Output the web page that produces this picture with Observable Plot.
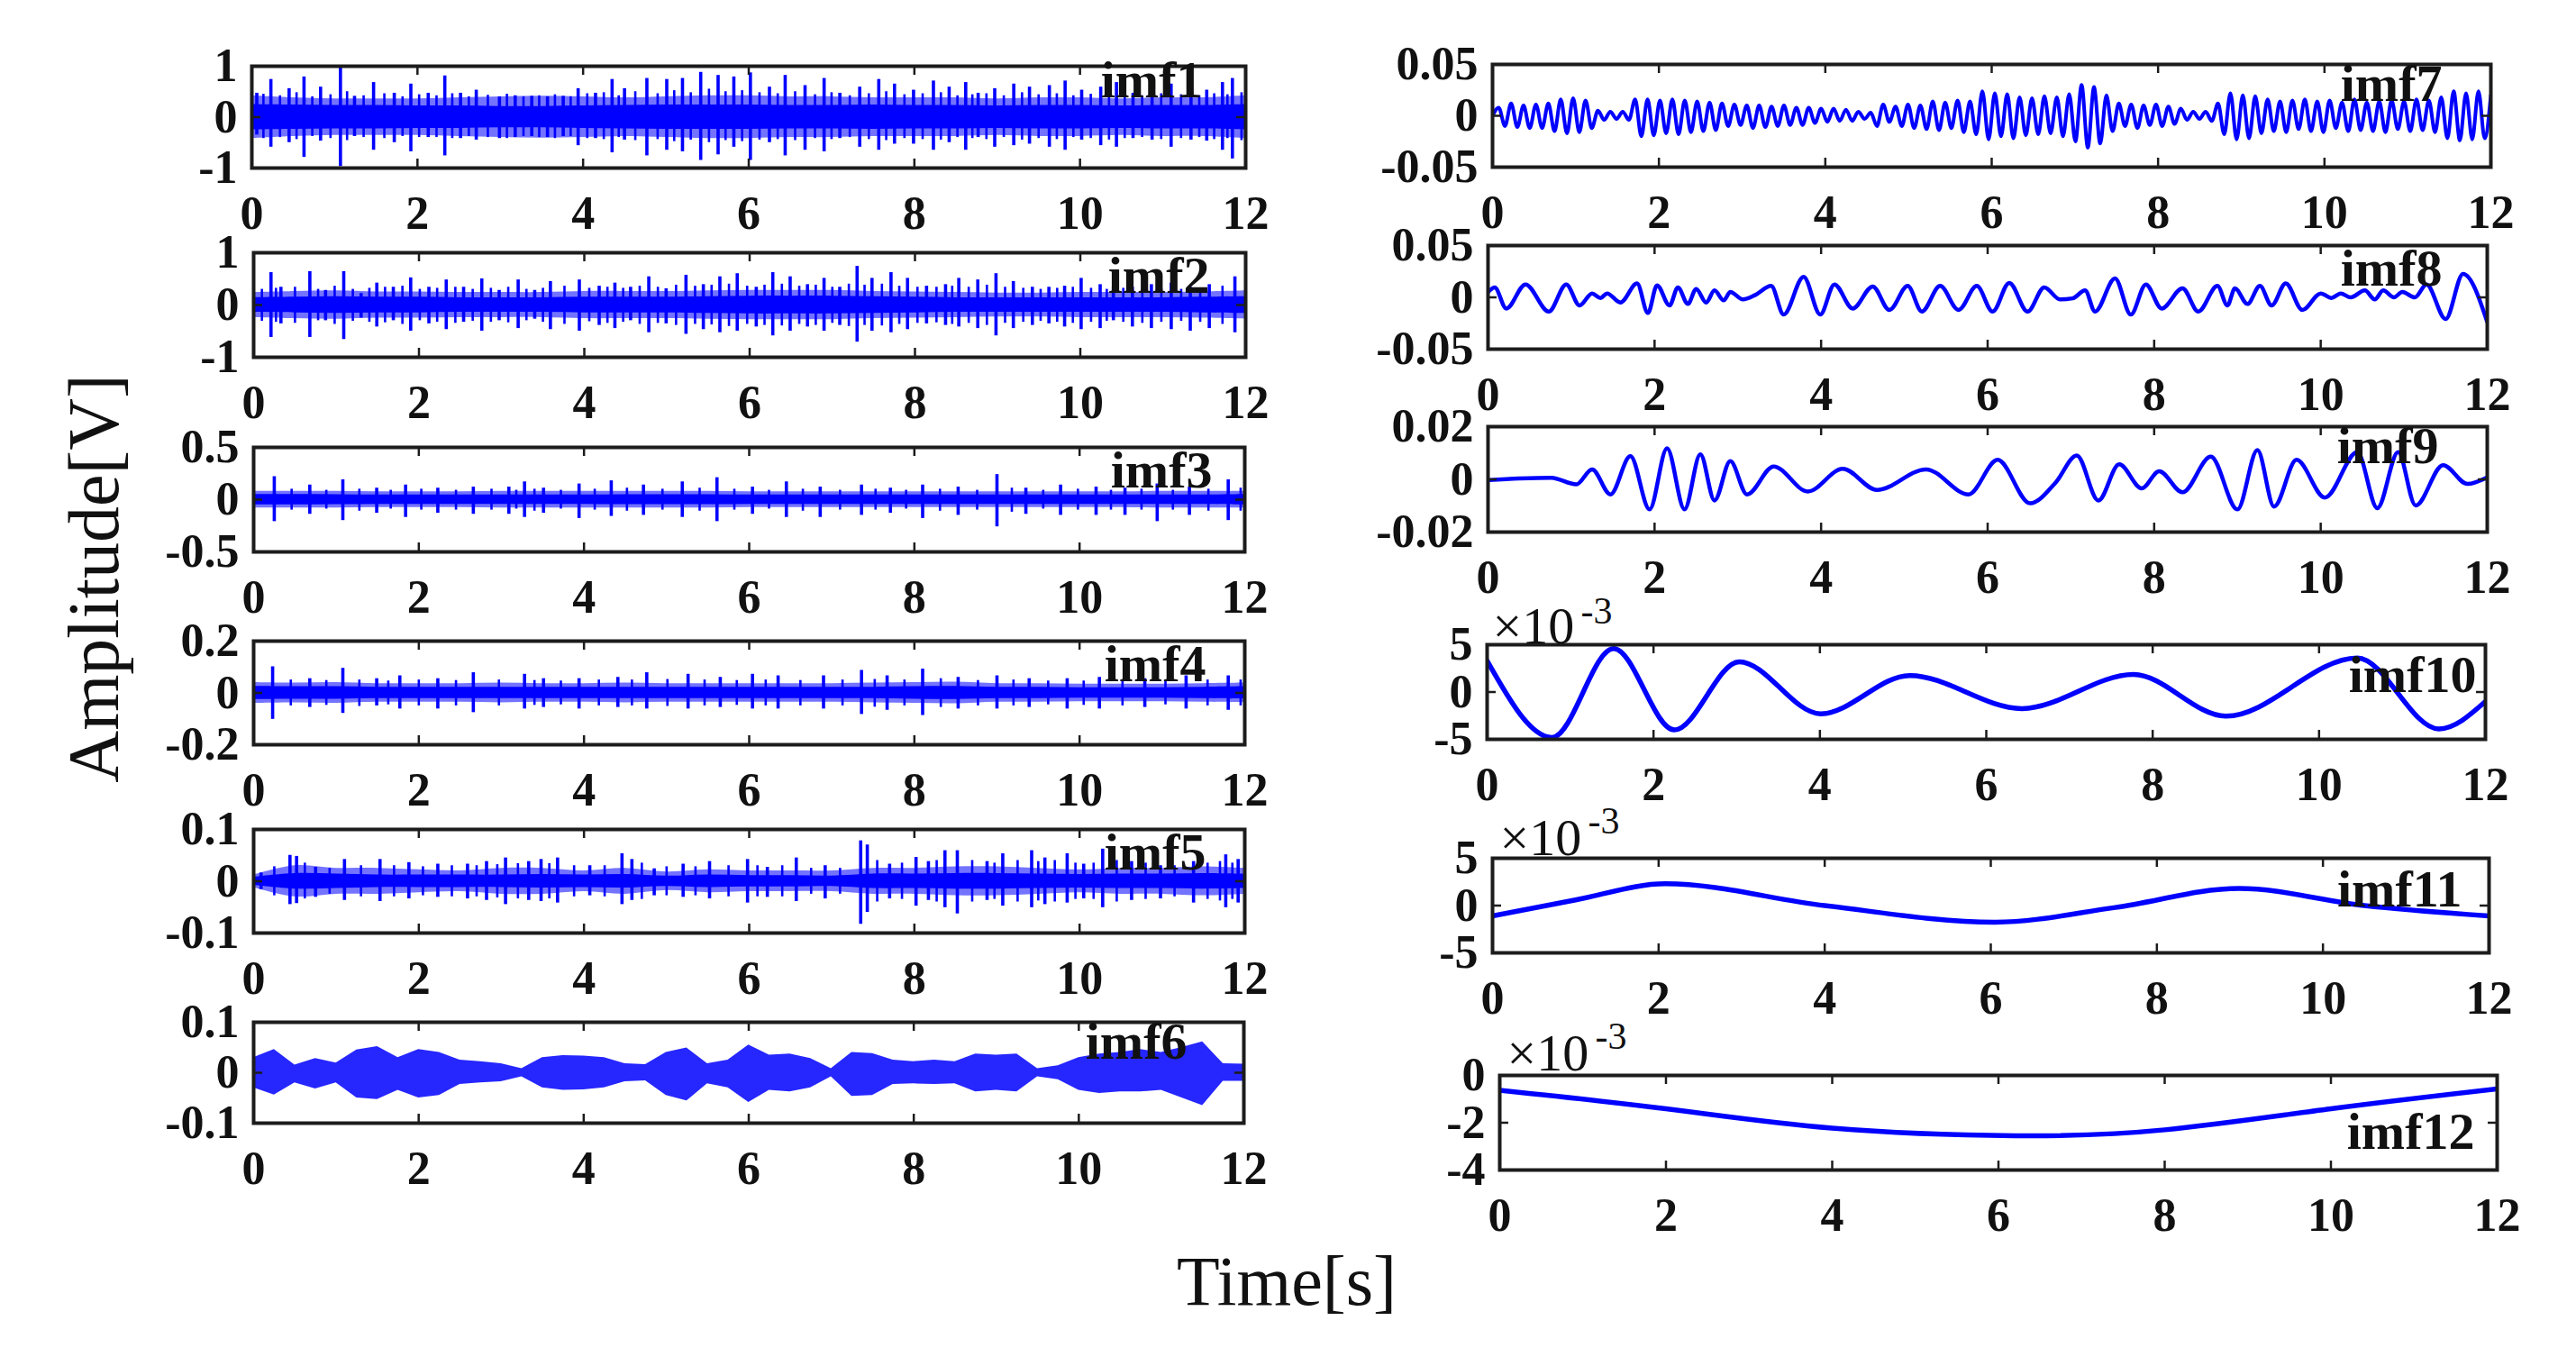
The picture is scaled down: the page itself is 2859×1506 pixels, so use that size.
<!DOCTYPE html>
<html><head><meta charset="utf-8">
<script src="https://cdn.jsdelivr.net/npm/d3@7"></script>
<script src="https://cdn.jsdelivr.net/npm/@observablehq/plot@0.6"></script>
<style>
html,body{margin:0;padding:0;background:#fff;}
#root{position:relative;width:2859px;height:1506px;background:#fff;overflow:hidden;}
#root svg{position:absolute;}
</style></head><body><div id="root"></div>
<script>
// ---------------- DATA ----------------
const timeTicks = [0, 2, 4, 6, 8, 10, 12];

// y-axis tick labels of each panel
const imf1Ticks = [-1, 0, 1];
const imf2Ticks = [-1, 0, 1];
const imf3Ticks = [-0.5, 0, 0.5];
const imf4Ticks = [-0.2, 0, 0.2];
const imf5Ticks = [-0.1, 0, 0.1];
const imf6Ticks = [-0.1, 0, 0.1];
const imf7Ticks = [-0.05, 0, 0.05];
const imf8Ticks = [-0.05, 0, 0.05];
const imf9Ticks = [-0.02, 0, 0.02];
const imf10Ticks = [-5, 0, 5];   // x10^-3
const imf11Ticks = [-5, 0, 5];   // x10^-3
const imf12Ticks = [-4, -2, 0];  // x10^-3

// dense IMFs: core band and outer fuzz (every 0.5 s), major spikes and minor spikes
const imf1Core = [0.25,0.24,0.23,0.23,0.22,0.22,0.21,0.21,0.22,0.23,0.24,0.24,0.24,0.23,0.23,0.24,0.23,0.23,0.22,0.23,0.23,0.22,0.23,0.23,0.25];
const imf1Fuzz = [0.42,0.38,0.36,0.36,0.36,0.38,0.40,0.41,0.40,0.38,0.40,0.42,0.42,0.40,0.40,0.38,0.38,0.38,0.36,0.38,0.38,0.36,0.38,0.38,0.42];
const imf1SpikeT = [0.06,0.23,0.45,0.63,0.83,1.07,1.24,1.47,1.72,1.92,2.13,2.33,2.52,2.71,2.99,3.18,3.38,3.57,3.76,3.94,4.15,4.35,4.50,4.77,5.01,5.20,5.42,5.63,5.82,6.02,6.25,6.44,6.68,6.91,7.10,7.34,7.57,7.76,7.99,8.23,8.42,8.62,8.77,8.97,9.20,9.39,9.63,9.82,10.02,10.25,10.44,10.64,10.87,11.10,11.34,11.53,11.72,11.84];
const imf1SpikeHi = [0.47,0.74,0.56,0.79,0.59,0.99,0.41,0.68,0.47,0.65,0.47,0.81,0.47,0.53,0.40,0.42,0.41,0.40,0.41,0.56,0.47,0.74,0.56,0.76,0.74,0.76,0.88,0.82,0.79,0.87,0.59,0.82,0.62,0.76,0.47,0.59,0.74,0.65,0.53,0.71,0.59,0.68,0.47,0.56,0.65,0.59,0.62,0.71,0.53,0.59,0.68,0.47,0.59,0.65,0.56,0.53,0.68,0.76];
const imf1SpikeLo = [-0.35,-0.59,-0.50,-0.79,-0.47,-0.97,-0.38,-0.65,-0.50,-0.68,-0.40,-0.76,-0.42,-0.45,-0.42,-0.40,-0.38,-0.40,-0.38,-0.56,-0.42,-0.70,-0.45,-0.76,-0.65,-0.68,-0.85,-0.74,-0.59,-0.85,-0.50,-0.76,-0.65,-0.68,-0.42,-0.59,-0.65,-0.53,-0.53,-0.65,-0.50,-0.65,-0.40,-0.59,-0.56,-0.53,-0.59,-0.65,-0.45,-0.56,-0.59,-0.42,-0.45,-0.59,-0.45,-0.47,-0.65,-0.82];
const imf1MinorT = [0.14,0.34,0.54,0.73,0.95,1.15,1.35,1.60,1.82,2.02,2.23,2.42,2.62,2.85,3.08,3.28,3.47,3.66,3.85,4.05,4.25,4.43,4.63,4.90,5.10,5.30,5.52,5.72,5.92,6.13,6.35,6.56,6.80,7.00,7.22,7.45,7.66,7.88,8.10,8.32,8.52,8.70,8.87,9.08,9.30,9.50,9.72,9.92,10.13,10.35,10.54,10.75,10.98,11.22,11.44,11.62,11.78,11.95];
const imf1MinorHi = [0.45,0.42,0.48,0.40,0.44,0.50,0.42,0.46,0.40,0.44,0.42,0.46,0.40,0.43,0.45,0.40,0.42,0.44,0.40,0.46,0.48,0.42,0.50,0.46,0.52,0.48,0.55,0.50,0.52,0.48,0.46,0.50,0.44,0.48,0.42,0.46,0.50,0.44,0.46,0.48,0.42,0.44,0.46,0.42,0.48,0.44,0.46,0.42,0.45,0.48,0.44,0.42,0.46,0.44,0.42,0.46,0.44,0.48];
const imf1MinorLo = [-0.42,-0.40,-0.44,-0.38,-0.42,-0.46,-0.40,-0.42,-0.38,-0.40,-0.40,-0.42,-0.38,-0.40,-0.42,-0.38,-0.40,-0.42,-0.38,-0.42,-0.44,-0.40,-0.46,-0.44,-0.48,-0.45,-0.50,-0.46,-0.48,-0.45,-0.44,-0.46,-0.42,-0.44,-0.40,-0.44,-0.46,-0.42,-0.44,-0.45,-0.40,-0.42,-0.44,-0.40,-0.45,-0.42,-0.44,-0.40,-0.42,-0.45,-0.42,-0.40,-0.44,-0.42,-0.40,-0.44,-0.42,-0.46];

const imf2Core = [0.14,0.15,0.16,0.15,0.15,0.14,0.14,0.14,0.15,0.15,0.15,0.16,0.17,0.17,0.17,0.16,0.15,0.14,0.14,0.14,0.14,0.14,0.14,0.15,0.16];
const imf2Fuzz = [0.24,0.26,0.27,0.25,0.25,0.24,0.24,0.24,0.26,0.26,0.26,0.27,0.28,0.28,0.28,0.26,0.25,0.24,0.23,0.23,0.24,0.24,0.24,0.25,0.27];
const imf2SpikeT = [0.21,0.33,0.68,0.87,1.09,1.30,1.49,1.69,1.90,2.12,2.33,2.54,2.76,2.97,3.20,3.40,3.59,3.94,4.18,4.37,4.56,4.78,4.99,5.23,5.44,5.64,5.85,6.08,6.28,6.49,6.70,6.90,7.09,7.30,7.48,7.71,7.91,8.14,8.37,8.53,8.76,8.98,9.19,9.42,9.62,9.81,10.01,10.24,10.40,10.63,10.86,11.10,11.33,11.56,11.87];
const imf2SpikeHi = [0.62,0.34,0.64,0.28,0.64,0.22,0.42,0.34,0.52,0.34,0.48,0.34,0.50,0.28,0.48,0.28,0.45,0.48,0.36,0.42,0.34,0.54,0.31,0.57,0.39,0.54,0.60,0.34,0.62,0.54,0.39,0.51,0.34,0.74,0.51,0.62,0.51,0.36,0.39,0.51,0.48,0.60,0.45,0.34,0.34,0.36,0.51,0.39,0.34,0.34,0.39,0.42,0.34,0.39,0.54];
const imf2SpikeLo = [-0.62,-0.36,-0.62,-0.30,-0.66,-0.25,-0.42,-0.30,-0.50,-0.36,-0.47,-0.33,-0.50,-0.30,-0.45,-0.27,-0.47,-0.50,-0.39,-0.45,-0.30,-0.53,-0.36,-0.56,-0.47,-0.53,-0.50,-0.42,-0.59,-0.50,-0.42,-0.50,-0.39,-0.71,-0.50,-0.53,-0.47,-0.36,-0.39,-0.42,-0.45,-0.59,-0.45,-0.39,-0.36,-0.42,-0.47,-0.45,-0.30,-0.42,-0.45,-0.47,-0.50,-0.45,-0.53];
const imf2MinorT = [0.10,0.27,0.50,0.78,0.98,1.20,1.40,1.59,1.80,2.01,2.22,2.44,2.65,2.87,3.08,3.30,3.50,3.76,4.06,4.28,4.47,4.67,4.89,5.11,5.34,5.54,5.75,5.97,6.18,6.39,6.60,6.80,7.00,7.20,7.39,7.60,7.81,8.03,8.26,8.45,8.65,8.87,9.09,9.31,9.52,9.72,9.91,10.13,10.32,10.52,10.75,10.98,11.22,11.45,11.72];
const imf2MinorHi = [0.30,0.32,0.34,0.30,0.36,0.30,0.32,0.34,0.36,0.30,0.32,0.34,0.30,0.32,0.34,0.30,0.32,0.36,0.32,0.34,0.32,0.36,0.34,0.38,0.36,0.38,0.40,0.36,0.38,0.40,0.36,0.38,0.34,0.40,0.38,0.40,0.36,0.34,0.34,0.36,0.34,0.38,0.34,0.32,0.30,0.32,0.34,0.32,0.30,0.32,0.34,0.32,0.30,0.32,0.36];
const imf2MinorLo = [-0.31,-0.33,-0.35,-0.30,-0.37,-0.31,-0.33,-0.34,-0.37,-0.30,-0.33,-0.35,-0.31,-0.33,-0.34,-0.30,-0.33,-0.37,-0.32,-0.35,-0.33,-0.37,-0.35,-0.39,-0.37,-0.38,-0.41,-0.37,-0.39,-0.40,-0.37,-0.39,-0.35,-0.41,-0.39,-0.40,-0.37,-0.35,-0.34,-0.37,-0.35,-0.39,-0.35,-0.33,-0.31,-0.33,-0.35,-0.33,-0.31,-0.33,-0.35,-0.33,-0.31,-0.33,-0.37];

const imf3Core = [0.050,0.050,0.048,0.045,0.045,0.045,0.045,0.045,0.045,0.048,0.048,0.048,0.045,0.045,0.045,0.045,0.045,0.045,0.045,0.045,0.045,0.045,0.045,0.045,0.050];
const imf3Fuzz = [0.080,0.080,0.080,0.075,0.075,0.075,0.080,0.080,0.080,0.080,0.080,0.080,0.075,0.075,0.075,0.075,0.075,0.075,0.075,0.075,0.075,0.075,0.080,0.080,0.080];
const imf3SpikeT = [0.25,0.68,1.08,1.49,1.84,2.23,2.66,3.09,3.28,3.51,3.94,4.33,4.72,5.19,5.61,6.04,6.45,6.86,7.36,7.71,8.10,8.53,9.00,9.35,9.77,10.20,10.55,10.94,11.33,11.80];
const imf3SpikeHi = [0.22,0.14,0.19,0.11,0.14,0.11,0.12,0.12,0.17,0.11,0.15,0.18,0.14,0.17,0.21,0.12,0.17,0.12,0.14,0.11,0.14,0.12,0.24,0.11,0.14,0.12,0.11,0.15,0.12,0.19];
const imf3SpikeLo = [-0.21,-0.14,-0.20,-0.13,-0.17,-0.13,-0.14,-0.14,-0.17,-0.13,-0.18,-0.16,-0.15,-0.17,-0.21,-0.14,-0.17,-0.17,-0.15,-0.13,-0.18,-0.15,-0.26,-0.14,-0.15,-0.15,-0.15,-0.21,-0.15,-0.20];
const imf3MinorT = [0.46,0.88,1.28,1.66,2.03,2.45,2.88,3.18,3.40,3.72,4.13,4.52,4.95,5.40,5.82,6.24,6.65,7.10,7.53,7.90,8.31,8.76,9.18,9.56,9.98,10.38,10.75,11.13,11.56,11.95];
const imf3MinorHi = [0.10,0.09,0.10,0.09,0.10,0.09,0.10,0.09,0.10,0.09,0.10,0.11,0.10,0.11,0.10,0.09,0.10,0.09,0.10,0.09,0.10,0.09,0.11,0.09,0.10,0.09,0.10,0.09,0.10,0.11];
const imf3MinorLo = [-0.10,-0.09,-0.11,-0.09,-0.10,-0.10,-0.10,-0.09,-0.11,-0.09,-0.10,-0.11,-0.10,-0.11,-0.10,-0.09,-0.11,-0.10,-0.10,-0.09,-0.11,-0.10,-0.12,-0.09,-0.10,-0.10,-0.10,-0.10,-0.11,-0.11];

const imf4Core = [0.025,0.024,0.024,0.022,0.022,0.022,0.022,0.022,0.022,0.022,0.022,0.022,0.022,0.022,0.022,0.022,0.024,0.025,0.022,0.022,0.020,0.020,0.020,0.022,0.024];
const imf4Fuzz = [0.040,0.038,0.040,0.036,0.036,0.036,0.038,0.036,0.036,0.038,0.036,0.036,0.036,0.036,0.036,0.038,0.040,0.042,0.036,0.036,0.034,0.034,0.034,0.036,0.038];
const imf4SpikeT = [0.23,0.68,1.08,1.49,1.77,2.23,2.66,3.28,3.51,3.94,4.41,4.76,5.26,5.65,6.04,6.35,6.90,7.36,7.67,8.10,8.53,9.00,9.39,9.85,10.24,10.79,11.29,11.80];
const imf4SpikeHi = [0.101,0.055,0.095,0.055,0.066,0.055,0.078,0.072,0.055,0.055,0.060,0.078,0.072,0.060,0.072,0.066,0.066,0.087,0.066,0.092,0.060,0.066,0.055,0.055,0.060,0.055,0.066,0.066];
const imf4SpikeLo = [-0.102,-0.056,-0.079,-0.050,-0.062,-0.062,-0.076,-0.062,-0.056,-0.062,-0.056,-0.062,-0.062,-0.056,-0.062,-0.062,-0.062,-0.083,-0.067,-0.087,-0.062,-0.062,-0.056,-0.062,-0.062,-0.056,-0.062,-0.067];
const imf4MinorT = [0.45,0.88,1.28,1.63,2.00,2.45,2.97,3.40,3.72,4.18,4.58,5.01,5.46,5.85,6.20,6.62,7.13,7.52,7.88,8.32,8.77,9.20,9.62,10.05,10.52,11.04,11.55,11.95];
const imf4MinorHi = [0.050,0.048,0.050,0.046,0.050,0.048,0.050,0.048,0.046,0.050,0.050,0.052,0.050,0.048,0.050,0.048,0.050,0.052,0.050,0.055,0.048,0.050,0.046,0.046,0.048,0.046,0.050,0.050];
const imf4MinorLo = [-0.050,-0.048,-0.052,-0.046,-0.050,-0.050,-0.050,-0.048,-0.046,-0.050,-0.050,-0.052,-0.050,-0.048,-0.050,-0.050,-0.050,-0.055,-0.050,-0.056,-0.050,-0.050,-0.046,-0.048,-0.050,-0.046,-0.050,-0.050];

const imf5Core = [0.008,0.015,0.014,0.012,0.012,0.012,0.012,0.013,0.012,0.013,0.010,0.012,0.011,0.011,0.010,0.014,0.014,0.015,0.015,0.014,0.013,0.014,0.014,0.015,0.014];
const imf5Fuzz = [0.012,0.030,0.025,0.025,0.022,0.020,0.025,0.025,0.020,0.025,0.018,0.022,0.020,0.020,0.020,0.025,0.025,0.028,0.028,0.025,0.022,0.025,0.025,0.028,0.025];
const imf5SpikeT = [0.09,0.44,0.52,0.75,1.10,1.53,1.88,2.23,2.59,2.82,3.05,3.33,3.48,3.68,4.07,4.46,4.58,4.85,5.20,5.52,5.98,6.22,6.57,6.92,7.35,7.43,7.70,8.02,8.17,8.37,8.52,8.88,9.07,9.42,9.58,9.85,10.05,10.28,10.63,10.98,11.38,11.77,11.92];
const imf5SpikeHi = [0.016,0.050,0.048,0.027,0.042,0.042,0.036,0.033,0.033,0.038,0.045,0.038,0.042,0.045,0.030,0.053,0.042,0.024,0.033,0.038,0.042,0.027,0.045,0.030,0.078,0.070,0.033,0.046,0.038,0.059,0.059,0.038,0.053,0.059,0.045,0.053,0.033,0.062,0.038,0.030,0.038,0.051,0.042];
const imf5SpikeLo = [-0.016,-0.045,-0.043,-0.031,-0.037,-0.039,-0.034,-0.031,-0.034,-0.037,-0.045,-0.037,-0.039,-0.042,-0.028,-0.045,-0.037,-0.028,-0.031,-0.034,-0.042,-0.031,-0.039,-0.034,-0.083,-0.060,-0.034,-0.048,-0.037,-0.051,-0.063,-0.037,-0.048,-0.051,-0.045,-0.042,-0.034,-0.051,-0.037,-0.034,-0.042,-0.051,-0.042];
const imf5MinorT = [0.25,0.62,0.92,1.30,1.70,2.05,2.40,2.70,2.95,3.20,3.58,3.88,4.25,4.70,5.00,5.35,5.75,6.10,6.40,6.75,7.10,7.55,7.85,8.27,8.70,8.97,9.25,9.50,9.70,9.95,10.17,10.45,10.80,11.15,11.55,11.70,11.85];
const imf5MinorHi = [0.028,0.035,0.025,0.030,0.030,0.028,0.030,0.030,0.032,0.034,0.034,0.030,0.030,0.035,0.028,0.028,0.030,0.030,0.030,0.025,0.025,0.040,0.035,0.040,0.040,0.035,0.040,0.038,0.040,0.035,0.035,0.040,0.035,0.030,0.035,0.038,0.035];
const imf5MinorLo = [-0.028,-0.034,-0.025,-0.030,-0.030,-0.028,-0.030,-0.030,-0.032,-0.034,-0.034,-0.030,-0.030,-0.035,-0.028,-0.028,-0.030,-0.030,-0.030,-0.025,-0.025,-0.040,-0.035,-0.040,-0.040,-0.035,-0.040,-0.038,-0.040,-0.035,-0.035,-0.040,-0.035,-0.030,-0.035,-0.038,-0.035];

// imf6: upper / lower envelope every 0.25 s
const imf6Upper = [0.030,0.046,0.015,0.028,0.019,0.045,0.052,0.030,0.046,0.040,0.025,0.022,0.018,0.008,0.030,0.034,0.033,0.030,0.018,0.016,0.040,0.049,0.018,0.025,0.055,0.035,0.037,0.028,0.008,0.040,0.038,0.025,0.022,0.025,0.022,0.037,0.035,0.037,0.008,0.014,0.030,0.037,0.040,0.046,0.040,0.050,0.061,0.018,0.017];
const imf6Lower = [-0.030,-0.044,-0.020,-0.032,-0.020,-0.050,-0.053,-0.035,-0.050,-0.045,-0.023,-0.020,-0.018,-0.008,-0.030,-0.035,-0.034,-0.030,-0.018,-0.016,-0.045,-0.056,-0.022,-0.030,-0.059,-0.035,-0.038,-0.030,-0.008,-0.047,-0.045,-0.023,-0.022,-0.023,-0.022,-0.038,-0.035,-0.038,-0.008,-0.014,-0.035,-0.041,-0.038,-0.038,-0.035,-0.050,-0.065,-0.017,-0.017];

// imf7: successive extrema, evenly spaced over 0..12 s
const imf7Extrema = [0,0.008,-0.010,0.012,-0.011,0.010,-0.012,0.011,-0.012,0.012,
 -0.015,0.016,-0.017,0.017,-0.016,0.015,-0.012,
 0.005,-0.004,0.004,-0.003,0.004,-0.004,
 0.016,-0.020,0.016,-0.019,0.015,-0.017,0.016,-0.018,0.015,-0.016,0.014,-0.015,0.013,-0.014,0.012,
 -0.010,0.011,-0.009,0.010,-0.012,0.010,-0.011,0.009,-0.010,0.010,-0.009,0.008,-0.009,0.008,-0.007,0.007,-0.006,0.007,-0.005,0.006,-0.005,0.004,
 -0.003,0.003,
 -0.010,0.011,-0.006,0.009,-0.010,0.011,-0.012,0.010,-0.013,
 0.014,-0.014,0.013,-0.012,0.015,-0.016,0.014,-0.018,
 0.024,-0.023,0.022,-0.020,0.021,-0.022,0.018,
 -0.019,0.017,-0.018,0.019,-0.017,0.018,-0.020,0.021,
 -0.025,0.030,-0.031,0.028,-0.027,
 0.020,
 -0.015,0.012,-0.010,0.011,-0.012,0.010,-0.009,0.011,-0.010,0.009,-0.008,0.007,
 -0.004,0.004,-0.003,0.004,-0.005,
 0.012,-0.018,0.022,-0.023,0.020,-0.022,0.019,-0.017,0.016,-0.015,
 0.014,-0.016,0.015,-0.013,0.016,-0.015,0.014,-0.016,0.015,-0.012,0.013,-0.015,0.016,-0.014,0.013,-0.015,0.014,-0.016,0.015,-0.013,0.014,-0.015,0.016,-0.014,0.015,-0.016,
 0.018,-0.022,0.024,-0.024,0.022,-0.023,0.024,-0.022,0.020];

const imf8T = [0,0.08,0.22,0.45,0.73,0.94,1.10,1.25,1.35,1.43,1.59,1.79,1.92,2.03,2.18,2.28,2.40,2.50,2.62,2.72,2.83,2.91,3.06,3.21,3.40,3.55,3.79,3.99,4.16,4.38,4.62,4.82,5.04,5.21,5.43,5.65,5.87,6.06,6.26,6.48,6.68,6.87,7.02,7.17,7.29,7.53,7.72,7.90,8.09,8.34,8.53,8.76,8.88,8.97,9.12,9.27,9.41,9.58,9.78,10.00,10.13,10.24,10.36,10.53,10.65,10.75,10.88,10.98,11.13,11.27,11.50,11.71,12.00];
const imf8V = [0.005,0.0096,-0.0108,0.0125,-0.0137,0.0125,-0.0078,0.0038,-0.0006,0.0038,-0.0049,0.0134,-0.0151,0.0116,-0.0078,0.0096,-0.0064,0.0081,-0.0049,0.0067,-0.0029,0.0052,-0.0020,0.0023,0.0110,-0.0166,0.0198,-0.0166,0.0125,-0.0108,0.0105,-0.0122,0.0110,-0.0137,0.0110,-0.0122,0.0110,-0.0137,0.0140,-0.0137,0.0096,-0.0020,-0.0010,0.0067,-0.0137,0.0183,-0.0166,0.0125,-0.0108,0.0087,-0.0137,0.0110,-0.0078,0.0087,-0.0064,0.0110,-0.0078,0.0134,-0.0122,0.0038,-0.0006,0.0038,0,0.0067,-0.0020,0.0067,0,0.0052,0,0.0125,-0.0209,0.0227,-0.0238];

const imf9T = [0,0.37,0.76,1.06,1.25,1.47,1.71,1.94,2.15,2.36,2.55,2.72,2.91,3.11,3.43,3.84,4.26,4.67,5.26,5.77,6.12,6.51,6.82,7.07,7.33,7.58,7.85,8.06,8.34,8.68,9.00,9.24,9.44,9.71,10.05,10.44,10.68,10.93,11.14,11.47,11.76,12.00];
const imf9V = [-0.0003,0.0003,0.0006,-0.0019,0.0038,-0.0057,0.0088,-0.0114,0.0118,-0.0114,0.0095,-0.0080,0.0069,-0.0057,0.0049,-0.0046,0.0040,-0.0040,0.0038,-0.0057,0.0074,-0.0091,-0.0011,0.0091,-0.0080,0.0057,-0.0034,0.0031,-0.0049,0.0086,-0.0114,0.0111,-0.0103,0.0074,-0.0069,0.0103,-0.0109,0.0103,-0.0099,0.0054,-0.0017,0.0008];

// imf10..imf12 in units of 10^-3
const imf10T = [0,0.78,1.52,2.25,3.03,4.01,5.08,6.43,7.77,8.88,10.46,11.44,12.00];
const imf10V = [3.3,-4.8,4.6,-4.0,3.2,-2.3,1.75,-1.75,1.85,-2.55,3.6,-3.9,-1.0];
const imf11T = [0,1.0,2.08,4.0,6.05,7.5,8.99,10.5,12.0];
const imf11V = [-1.1,0.6,2.3,0.0,-1.75,-0.2,1.8,0.0,-1.1];
const imf12T = [0,2,4,6.2,8,10,12];
const imf12V = [-0.63,-1.41,-2.23,-2.55,-2.3,-1.41,-0.57];

// ---------------- LAYOUT ----------------
const BLUE = "#0000ff", FRAME = "#1c1c1c", FONT = "'Liberation Serif','Times New Roman',serif";
const mL = 150, mR = 40, mT = 90, mB = 100, TL = 10;
const fmt = d => String(d);

const pts = (T, V) => T.map((t, i) => ({t, v: V[i]}));
const band = (core, fuzz) => core.map((c, i) => ({t: i * 0.5, core: c, fuzz: fuzz[i]}));
const spikes = (T, H, L) => T.map((t, i) => ({t, hi: H[i], lo: L[i]}));

function denseMarks(core, fuzz, T, H, L, mT_, mH, mLo) {
  const b = band(core, fuzz);
  return [
    Plot.areaY(b, {x: "t", y1: d => -d.fuzz, y2: d => d.fuzz, fill: BLUE, fillOpacity: 0.55, curve: "catmull-rom", clip: true}),
    Plot.ruleX(spikes(mT_, mH, mLo), {x: "t", y1: "lo", y2: "hi", stroke: BLUE, strokeWidth: 2.6, clip: true}),
    Plot.areaY(b, {x: "t", y1: d => -d.core, y2: d => d.core, fill: BLUE, curve: "catmull-rom", clip: true}),
    Plot.ruleX(spikes(T, H, L), {x: "t", y1: "lo", y2: "hi", stroke: BLUE, strokeWidth: 3.6, clip: true})
  ];
}
const lineMarks = (data, w, curve) => [Plot.line(data, {x: "t", y: "v", stroke: BLUE, strokeWidth: w, curve, clip: true})];

const imf6Env = imf6Upper.map((u, i) => ({t: i * 0.25, hi: u, lo: imf6Lower[i]}));
const imf7Data = imf7Extrema.map((v, i) => ({t: i * 12 / (imf7Extrema.length - 1), v}));

const panels = [
  {name: "imf1", box: [279, 73, 1382, 186], ticks: imf1Ticks, lab: ["top-right", -48, 34], marks: denseMarks(imf1Core, imf1Fuzz, imf1SpikeT, imf1SpikeHi, imf1SpikeLo, imf1MinorT, imf1MinorHi, imf1MinorLo)},
  {name: "imf2", box: [281, 280, 1382, 396], ticks: imf2Ticks, lab: ["top-right", -40, 44], marks: denseMarks(imf2Core, imf2Fuzz, imf2SpikeT, imf2SpikeHi, imf2SpikeLo, imf2MinorT, imf2MinorHi, imf2MinorLo)},
  {name: "imf3", box: [281, 496, 1381, 612], ticks: imf3Ticks, lab: ["top-right", -36, 44], marks: denseMarks(imf3Core, imf3Fuzz, imf3SpikeT, imf3SpikeHi, imf3SpikeLo, imf3MinorT, imf3MinorHi, imf3MinorLo)},
  {name: "imf4", box: [281, 711, 1381, 826], ticks: imf4Ticks, lab: ["top-right", -43, 44], marks: denseMarks(imf4Core, imf4Fuzz, imf4SpikeT, imf4SpikeHi, imf4SpikeLo, imf4MinorT, imf4MinorHi, imf4MinorLo)},
  {name: "imf5", box: [281, 920, 1381, 1035], ticks: imf5Ticks, lab: ["top-right", -43, 44], marks: denseMarks(imf5Core, imf5Fuzz, imf5SpikeT, imf5SpikeHi, imf5SpikeLo, imf5MinorT, imf5MinorHi, imf5MinorLo)},
  {name: "imf6", box: [281, 1134, 1380, 1246], ticks: imf6Ticks, lab: ["top-right", -63, 40], marks: [
    Plot.areaY(imf6Env, {x: "t", y1: "lo", y2: "hi", fill: BLUE, fillOpacity: 0.85, curve: "linear", clip: true})]},
  {name: "imf7", box: [1656, 71, 2764, 185], ticks: imf7Ticks, lab: ["top-right", -54, 40], marks: lineMarks(imf7Data, 4, "monotone-x")},
  {name: "imf8", box: [1651, 272, 2760, 387], ticks: imf8Ticks, lab: ["top-right", -50, 44], marks: lineMarks(pts(imf8T, imf8V), 4.5, "monotone-x")},
  {name: "imf9", box: [1651, 473, 2760, 590], ticks: imf9Ticks, lab: ["top-right", -54, 40], marks: lineMarks(pts(imf9T, imf9V), 4.5, "monotone-x")},
  {name: "imf10", box: [1650, 715, 2758, 820], ticks: imf10Ticks, lab: ["top-right", -10, 52], exp: [6, -2, 104, -24], marks: lineMarks(pts(imf10T, imf10V), 5.5, "monotone-x")},
  {name: "imf11", box: [1656, 952, 2762, 1057], ticks: imf11Ticks, lab: ["top-right", -30, 53], exp: [8, -4, 106, -28], marks: lineMarks(pts(imf11T, imf11V), 5.5, "monotone-x")},
  {name: "imf12", box: [1664, 1193, 2771, 1298], ticks: imf12Ticks, lab: ["bottom-right", -25, -24], exp: [8, -6, 106, -30], marks: lineMarks(pts(imf12T, imf12V), 5.5, "natural")}
];

const root = document.getElementById("root");
const innerTimeTicks = timeTicks.slice(1, -1);

for (const p of panels) {
  const [x0, y0, x1, y1] = p.box;
  const iw = x1 - x0, ih = y1 - y0;
  const dom = [p.ticks[0], p.ticks[p.ticks.length - 1]];
  const innerY = p.ticks.slice(1, -1);
  const marks = [
    ...p.marks,
    Plot.ruleX(innerTimeTicks, {x: d => d, insetBottom: ih - TL, stroke: FRAME, strokeWidth: 2.5}),
    Plot.ruleX(innerTimeTicks, {x: d => d, insetTop: ih - TL, stroke: FRAME, strokeWidth: 2.5}),
    Plot.ruleY(innerY, {y: d => d, insetRight: iw - TL, stroke: FRAME, strokeWidth: 2.5}),
    Plot.ruleY(innerY, {y: d => d, insetLeft: iw - TL, stroke: FRAME, strokeWidth: 2.5}),
    Plot.frame({stroke: FRAME, strokeWidth: 4}),
    Plot.axisX({ticks: timeTicks, tickSize: 0, tickPadding: 31, fontSize: 52, fontWeight: "bold", tickFormat: fmt, label: null}),
    Plot.axisY({ticks: p.ticks, tickSize: 0, tickPadding: 16, fontSize: 52, fontWeight: "bold", tickFormat: fmt, label: null}),
    Plot.text([p.name], {text: d => d, frameAnchor: p.lab[0], dx: p.lab[1], dy: p.lab[2], textAnchor: "end", lineAnchor: "bottom", fontSize: 58, fontWeight: "bold"})
  ];
  if (p.exp) {
    marks.push(Plot.text(["\u00d710"], {text: d => d, frameAnchor: "top-left", dx: p.exp[0], dy: p.exp[1], textAnchor: "start", lineAnchor: "bottom", fontSize: 58}));
    marks.push(Plot.text(["-3"], {text: d => d, frameAnchor: "top-left", dx: p.exp[2], dy: p.exp[3], textAnchor: "start", lineAnchor: "bottom", fontSize: 42}));
  }
  const svg = Plot.plot({
    width: iw + mL + mR, height: ih + mT + mB,
    marginLeft: mL, marginRight: mR, marginTop: mT, marginBottom: mB,
    x: {domain: [0, 12]},
    y: {domain: dom},
    style: {background: "transparent", overflow: "visible", fontFamily: FONT, color: "#111", maxWidth: "none"},
    marks
  });
  svg.style.left = (x0 - mL) + "px";
  svg.style.top = (y0 - mT) + "px";
  root.appendChild(svg);
}

// axis titles
const ns = "http://www.w3.org/2000/svg";
const over = document.createElementNS(ns, "svg");
over.setAttribute("width", 2859); over.setAttribute("height", 1506);
over.style.left = "0px"; over.style.top = "0px"; over.style.pointerEvents = "none";
const ff = FONT.replace(/'/g, "");
over.innerHTML = `
<text x="1428" y="1448" text-anchor="middle" font-family="${ff}" font-size="78" fill="#111">Time[s]</text>
<text transform="translate(131,642) rotate(-90)" text-anchor="middle" font-family="${ff}" font-size="80" fill="#111">Amplitude[V]</text>`;
root.appendChild(over);
</script></body></html>
